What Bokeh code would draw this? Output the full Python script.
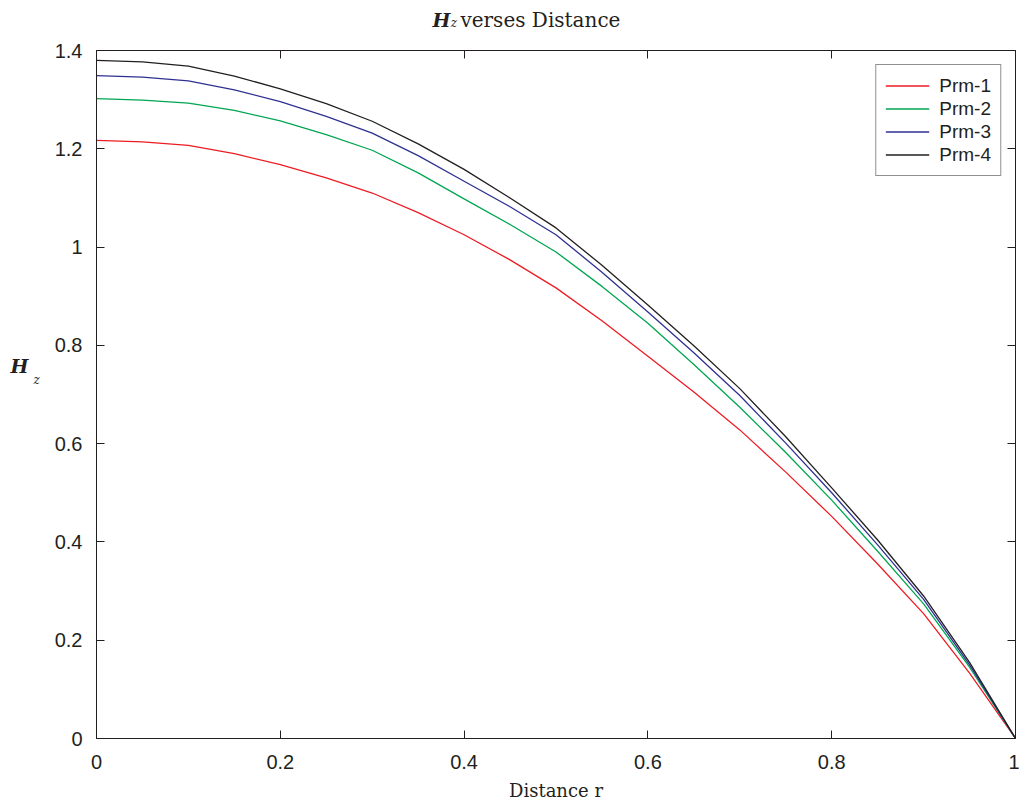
from bokeh.plotting import figure
from bokeh.models import FixedTicker, LinearAxis, Label, Range1d, Legend, LegendItem
from bokeh.embed import file_html
from bokeh.resources import INLINE

# ---- data ----
r = [0.0, 0.05, 0.1, 0.15, 0.2, 0.25, 0.3, 0.35, 0.4, 0.45, 0.5,
     0.55, 0.6, 0.65, 0.7, 0.75, 0.8, 0.85, 0.9, 0.95, 1.0]
prm1 = [1.217, 1.214, 1.207, 1.190, 1.168, 1.141, 1.110, 1.070, 1.025, 0.974, 0.917,
        0.850, 0.778, 0.705, 0.628, 0.542, 0.452, 0.355, 0.254, 0.133, 0.0]
prm2 = [1.302, 1.299, 1.293, 1.278, 1.257, 1.229, 1.197, 1.151, 1.098, 1.046, 0.990,
        0.920, 0.845, 0.761, 0.674, 0.582, 0.485, 0.381, 0.274, 0.145, 0.0]
prm3 = [1.349, 1.346, 1.338, 1.320, 1.296, 1.266, 1.232, 1.186, 1.134, 1.082, 1.025,
        0.949, 0.868, 0.785, 0.698, 0.601, 0.500, 0.394, 0.283, 0.150, 0.0]
prm4 = [1.380, 1.377, 1.368, 1.348, 1.322, 1.292, 1.256, 1.210, 1.158, 1.100, 1.039,
        0.963, 0.882, 0.799, 0.712, 0.614, 0.510, 0.404, 0.290, 0.155, 0.0]
series_names = ["Prm-1", "Prm-2", "Prm-3", "Prm-4"]
series_colors = ["#ed1c24", "#00a651", "#2e3192", "#231f20"]
x_ticks = [0, 0.2, 0.4, 0.6, 0.8, 1]
x_tick_labels = ["0", "0.2", "0.4", "0.6", "0.8", "1"]
y_ticks = [0, 0.2, 0.4, 0.6, 0.8, 1, 1.2, 1.4]
y_tick_labels = ["0", "0.2", "0.4", "0.6", "0.8", "1", "1.2", "1.4"]

DARK = "#231f20"
TICK_FONT = "Liberation Sans"
SERIF = "DejaVu Serif"

p = figure(frame_width=919, frame_height=688,
           x_range=Range1d(0, 1), y_range=Range1d(0, 1.4),
           output_backend="svg", toolbar_location=None,
           min_border_left=96, min_border_right=4,
           min_border_top=50, min_border_bottom=60,
           background_fill_color="white", border_fill_color="white")
p.xgrid.visible = False
p.ygrid.visible = False
p.outline_line_color = DARK
p.outline_line_width = 1

p.xaxis.ticker = FixedTicker(ticks=x_ticks)
p.xaxis.major_label_overrides = dict(zip(x_ticks, x_tick_labels))
p.yaxis.ticker = FixedTicker(ticks=y_ticks)
p.yaxis.major_label_overrides = dict(zip(y_ticks, y_tick_labels))

for ax in (p.xaxis[0], p.yaxis[0]):
    ax.major_tick_in = 8
    ax.major_tick_out = 0
    ax.minor_tick_in = 0
    ax.minor_tick_out = 0
    ax.axis_line_color = DARK
    ax.major_tick_line_color = DARK
    ax.major_label_text_font = TICK_FONT
    ax.major_label_text_font_size = "20px"
    ax.major_label_text_color = DARK
p.yaxis.major_label_standoff = 14
p.xaxis.major_label_standoff = 16

p.xaxis.axis_label = "Distance r"
p.xaxis.axis_label_text_font = SERIF
p.xaxis.axis_label_text_font_style = "normal"
p.xaxis.axis_label_text_font_size = "18px"
p.xaxis.axis_label_text_color = DARK
p.xaxis.axis_label_standoff = 8

# mirrored ticks on top and right (box style), without labels
top = LinearAxis(ticker=FixedTicker(ticks=x_ticks),
                 major_label_overrides={t: "" for t in x_ticks},
                 major_label_text_font_size="1px",
                 major_tick_in=8, major_tick_out=0, minor_tick_in=0, minor_tick_out=0,
                 major_label_standoff=0, axis_line_color=DARK, major_tick_line_color=DARK)
right = LinearAxis(ticker=FixedTicker(ticks=y_ticks),
                   major_label_overrides={t: "" for t in y_ticks},
                   major_label_text_font_size="1px",
                   major_tick_in=8, major_tick_out=0, minor_tick_in=0, minor_tick_out=0,
                   major_label_standoff=0, axis_line_color=DARK, major_tick_line_color=DARK)
p.add_layout(top, "above")
p.add_layout(right, "right")

items = []
for name, ys, col in zip(series_names, [prm1, prm2, prm3, prm4], series_colors):
    rr = p.line(r, ys, line_color=col, line_width=1.3)
    items.append(LegendItem(label=name, renderers=[rr]))

legend = Legend(items=items, location="top_right")
legend.margin = 14
legend.padding = 9
legend.spacing = 0
legend.glyph_width = 44
legend.glyph_height = 23
legend.label_height = 23
legend.label_standoff = 10
legend.label_text_font = TICK_FONT
legend.label_text_font_size = "19px"
legend.label_text_color = DARK
legend.border_line_color = DARK
legend.border_line_width = 1
legend.background_fill_alpha = 1
p.add_layout(legend, "center")

# title: bold-italic H with italic subscript z, then plain text
p.add_layout(Label(x=0.3656, y=1.463, text="H", text_font=SERIF, text_font_style="bold italic",
                   text_font_size="19px", text_color=DARK, text_baseline="alphabetic"), "above")
p.add_layout(Label(x=0.3856, y=1.455, text="z", text_font=SERIF, text_font_style="italic",
                   text_font_size="12px", text_color=DARK, text_baseline="alphabetic"), "left")
p.add_layout(Label(x=0.396, y=1.463, text="verses Distance", text_font=SERIF,
                   text_font_style="normal", text_font_size="20px", text_color=DARK,
                   text_baseline="alphabetic"), "above")

# y-axis label: H_z
p.add_layout(Label(x=-0.0936, y=0.759, text="H", text_font=SERIF, text_font_style="bold italic",
                   text_font_size="19px", text_color=DARK, text_baseline="alphabetic"), "left")
p.add_layout(Label(x=-0.0686, y=0.730, text="z", text_font=SERIF, text_font_style="italic",
                   text_font_size="12px", text_color=DARK, text_baseline="alphabetic"), "left")

open("out.html", "w").write(file_html(p, INLINE))
